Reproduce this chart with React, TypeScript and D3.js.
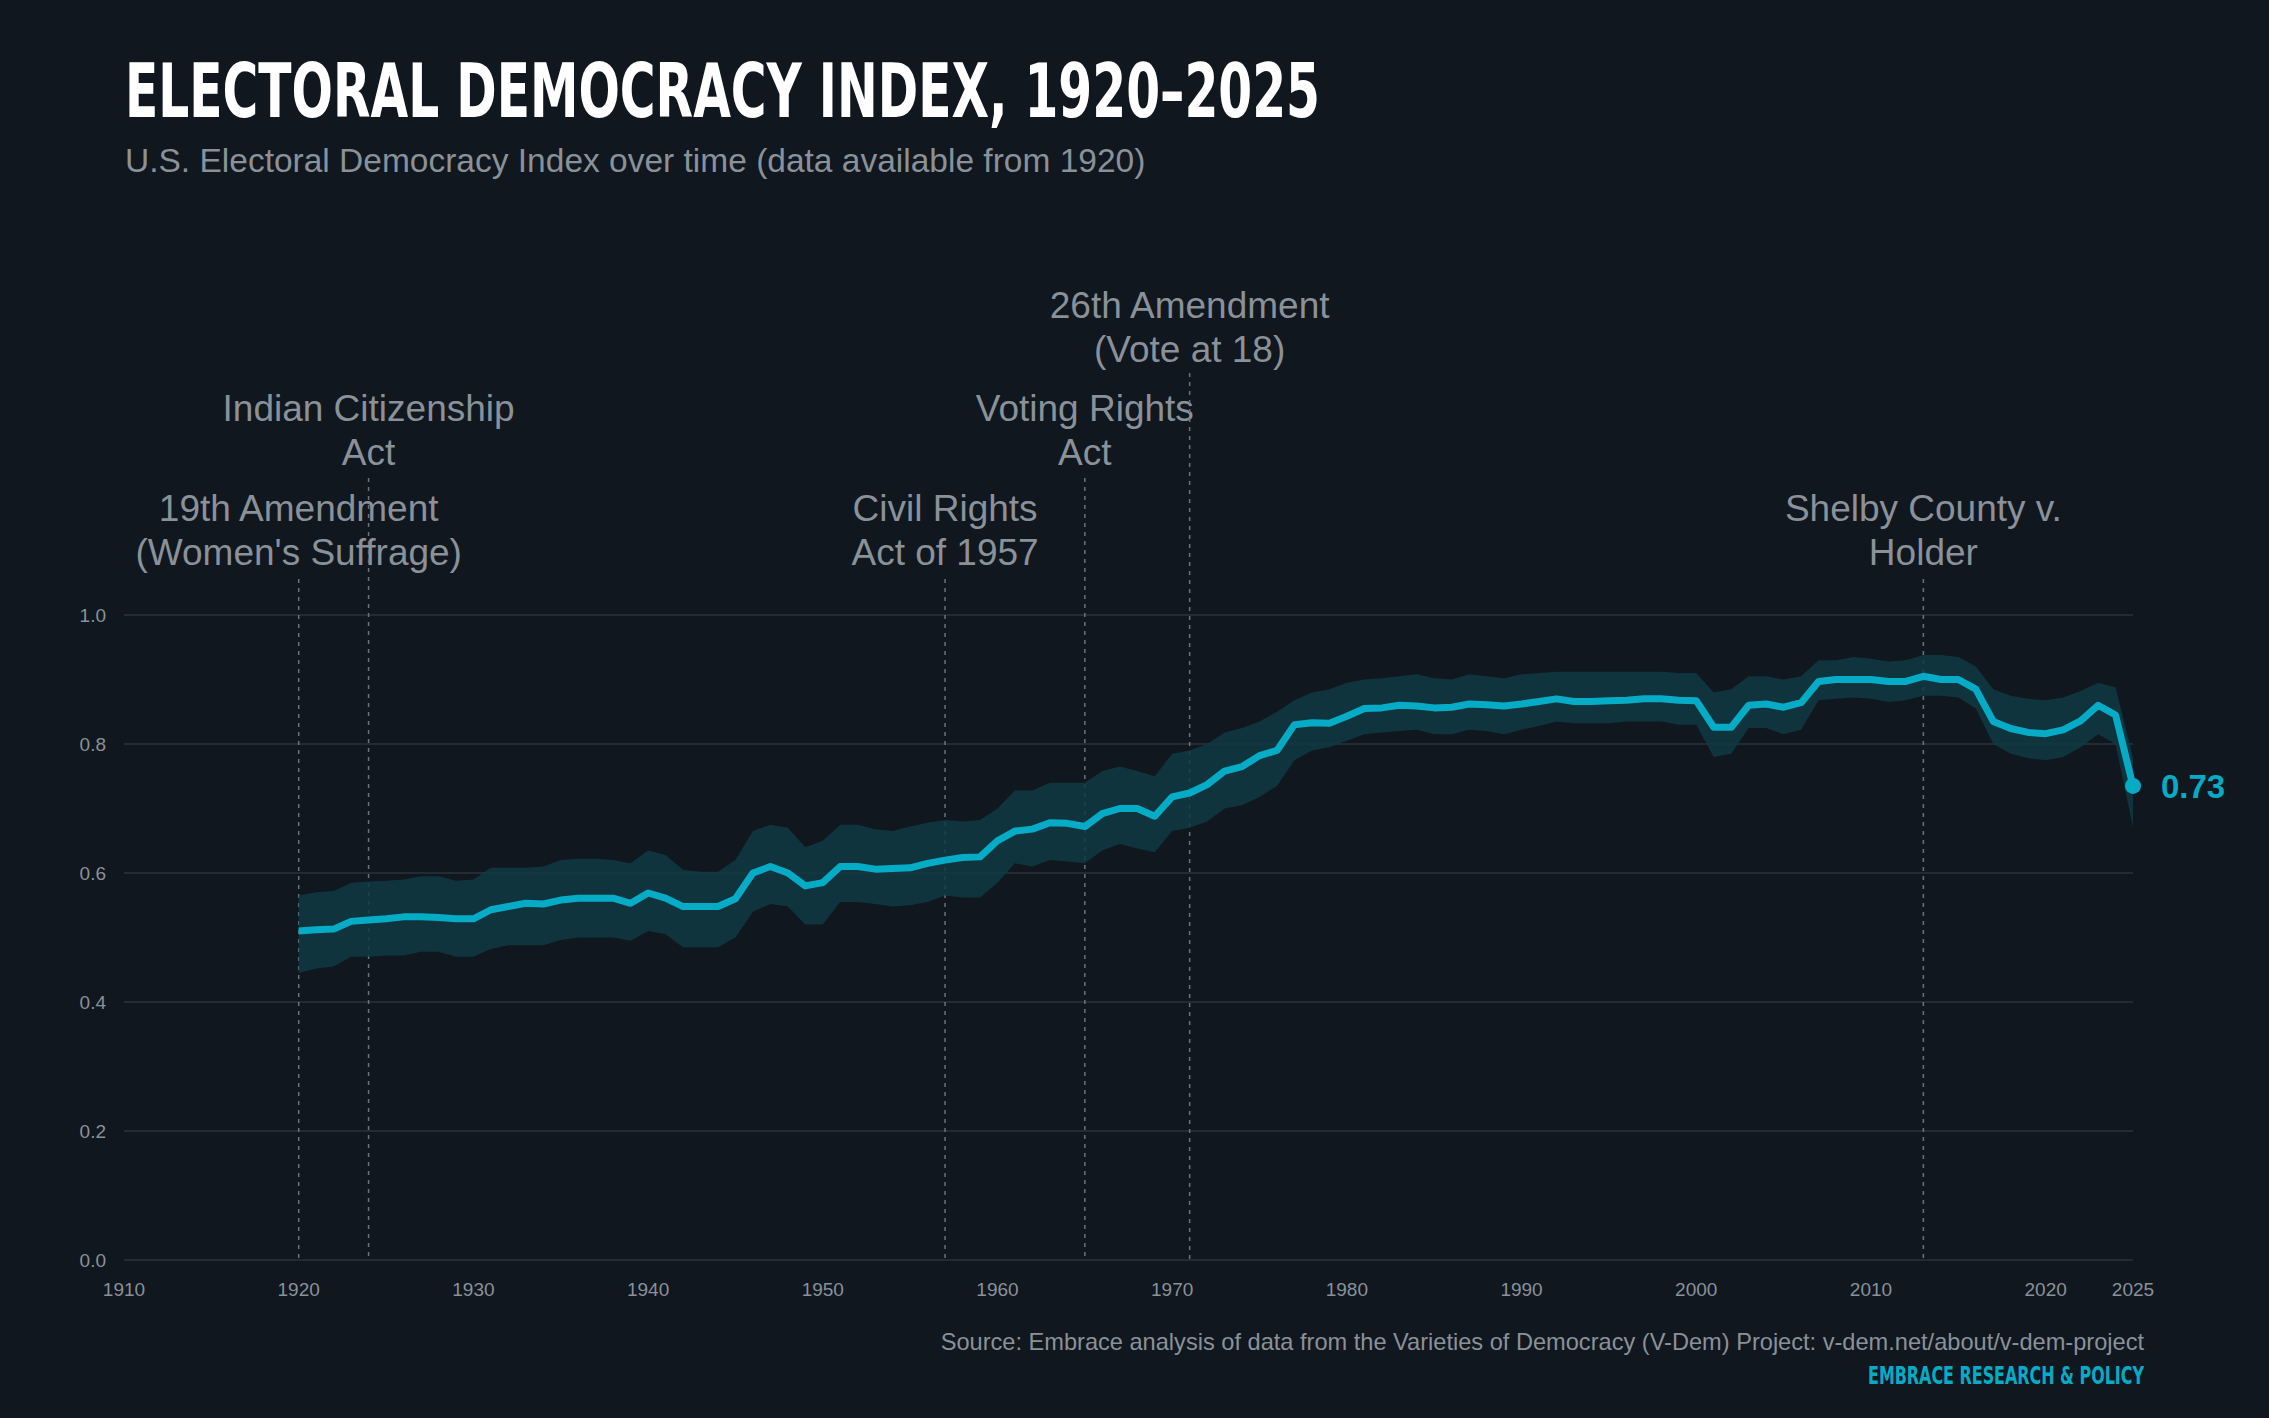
import React from 'react';
import * as d3 from 'd3';

const years = d3.range(1920, 2026);

const meanValues = [
  0.510, 0.512, 0.513, 0.525, 0.527, 0.529, 0.532, 0.532, 0.531, 0.529,
  0.529, 0.543, 0.548, 0.553, 0.552, 0.558, 0.561, 0.561, 0.561, 0.553,
  0.569, 0.561, 0.548, 0.548, 0.548, 0.560, 0.600, 0.610, 0.600, 0.580,
  0.585, 0.610, 0.610, 0.606, 0.607, 0.608, 0.615, 0.620, 0.624, 0.625,
  0.650, 0.665, 0.668, 0.678, 0.677, 0.672, 0.692, 0.700, 0.700, 0.688,
  0.718, 0.724, 0.737, 0.758, 0.765, 0.782, 0.790, 0.830, 0.833, 0.832,
  0.843, 0.855, 0.856, 0.860, 0.859, 0.856, 0.857, 0.862, 0.861, 0.859,
  0.862, 0.866, 0.870, 0.866, 0.866, 0.867, 0.868, 0.870, 0.870, 0.868,
  0.867, 0.826, 0.826, 0.860, 0.862, 0.857, 0.864, 0.897, 0.900, 0.900,
  0.900, 0.897, 0.897, 0.905, 0.900, 0.900, 0.885, 0.835, 0.824, 0.818,
  0.816, 0.822, 0.836, 0.860, 0.845, 0.735,
];

const upperValues = [
  0.565, 0.570, 0.572, 0.585, 0.587, 0.588, 0.590, 0.595, 0.595, 0.588,
  0.590, 0.608, 0.608, 0.608, 0.610, 0.620, 0.622, 0.622, 0.620, 0.615,
  0.635, 0.628, 0.605, 0.602, 0.602, 0.620, 0.665, 0.675, 0.670, 0.640,
  0.650, 0.675, 0.675, 0.668, 0.665, 0.672, 0.678, 0.682, 0.680, 0.682,
  0.700, 0.728, 0.728, 0.740, 0.740, 0.740, 0.758, 0.765, 0.758, 0.750,
  0.785, 0.790, 0.800, 0.818, 0.825, 0.835, 0.850, 0.868, 0.880, 0.885,
  0.895, 0.900, 0.902, 0.905, 0.908, 0.902, 0.900, 0.908, 0.905, 0.902,
  0.908, 0.910, 0.912, 0.912, 0.912, 0.912, 0.912, 0.912, 0.912, 0.910,
  0.910, 0.880, 0.885, 0.905, 0.905, 0.900, 0.905, 0.930, 0.930, 0.935,
  0.932, 0.928, 0.930, 0.938, 0.938, 0.935, 0.920, 0.885, 0.875, 0.870,
  0.868, 0.872, 0.882, 0.895, 0.888, 0.780,
];

const lowerValues = [
  0.445, 0.452, 0.455, 0.470, 0.470, 0.472, 0.472, 0.478, 0.478, 0.470,
  0.470, 0.482, 0.488, 0.488, 0.488, 0.496, 0.500, 0.500, 0.500, 0.495,
  0.510, 0.505, 0.485, 0.485, 0.485, 0.500, 0.540, 0.552, 0.548, 0.520,
  0.520, 0.555, 0.555, 0.552, 0.548, 0.550, 0.555, 0.565, 0.562, 0.562,
  0.585, 0.615, 0.610, 0.620, 0.618, 0.615, 0.635, 0.645, 0.638, 0.632,
  0.665, 0.670, 0.680, 0.700, 0.705, 0.718, 0.735, 0.775, 0.790, 0.795,
  0.805, 0.815, 0.818, 0.820, 0.822, 0.815, 0.815, 0.822, 0.820, 0.815,
  0.822, 0.828, 0.835, 0.832, 0.832, 0.832, 0.835, 0.835, 0.835, 0.830,
  0.830, 0.780, 0.785, 0.825, 0.825, 0.815, 0.822, 0.868, 0.870, 0.872,
  0.870, 0.865, 0.868, 0.875, 0.875, 0.872, 0.855, 0.800, 0.785, 0.778,
  0.775, 0.780, 0.795, 0.815, 0.800, 0.670,
];

const xTicks = [1910, 1920, 1930, 1940, 1950, 1960, 1970, 1980, 1990, 2000, 2010, 2020, 2025];
const yTicks = [0, 0.2, 0.4, 0.6, 0.8, 1.0];

const events = [
  { year: 1920, lines: ['19th Amendment', "(Women's Suffrage)"], level: 0 },
  { year: 1924, lines: ['Indian Citizenship', 'Act'], level: 1 },
  { year: 1957, lines: ['Civil Rights', 'Act of 1957'], level: 0 },
  { year: 1965, lines: ['Voting Rights', 'Act'], level: 1 },
  { year: 1971, lines: ['26th Amendment', '(Vote at 18)'], level: 2 },
  { year: 2013, lines: ['Shelby County v.', 'Holder'], level: 0 },
];

const W = 2269;
const H = 1418;
const BG = '#10171f';
const TEAL = '#06acc6';
const GREY = '#8a9199';

export default function App() {
  const x = d3.scaleLinear().domain([1910, 2025]).range([124, 2133]);
  const y = d3.scaleLinear().domain([0, 1]).range([1260, 615]);

  const rows = years.map((yr, i) => ({ yr, m: meanValues[i], u: upperValues[i], l: lowerValues[i] }));
  const area = d3.area<typeof rows[0]>().x(d => x(d.yr)).y0(d => y(d.l)).y1(d => y(d.u));
  const line = d3.line<typeof rows[0]>().x(d => x(d.yr)).y(d => y(d.m));
  const last = rows[rows.length - 1];

  // label baselines per level (first line); line tops
  const levelBase = [521, 421, 318];
  const levelTop = [579, 478, 373];
  const sans = 'Liberation Sans, Arial, sans-serif';
  const narrow = '"Liberation Sans Narrow", "DejaVu Sans Condensed", sans-serif';

  return (
    <svg width={W} height={H} style={{ display: 'block', position: 'absolute', left: 0, top: 0 }}>
      <rect width={W} height={H} fill={BG} />
      <text x={125} y={117} fill="#fff" fontFamily={narrow} fontWeight={700} fontSize={74}
        textLength={1195} lengthAdjust="spacingAndGlyphs">ELECTORAL DEMOCRACY INDEX, 1920–2025</text>
      <text x={125} y={172} fill={GREY} fontFamily={sans} fontSize={33.5}>
        U.S. Electoral Democracy Index over time (data available from 1920)
      </text>

      {yTicks.map(t => (
        <g key={t}>
          <line x1={124} x2={2133} y1={y(t)} y2={y(t)} stroke="#2a343d" strokeWidth={1.5} />
          <text x={106} y={y(t) + 7} textAnchor="end" fill={GREY} fontFamily={sans} fontSize={19}>{t.toFixed(1)}</text>
        </g>
      ))}
      {xTicks.map(t => (
        <text key={t} x={x(t)} y={1296} textAnchor="middle" fill={GREY} fontFamily={sans} fontSize={19}>{t}</text>
      ))}

      {events.map(e => (
        <g key={e.year}>
          <line x1={x(e.year)} x2={x(e.year)} y1={levelTop[e.level]} y2={1260}
            stroke="#6b737b" strokeWidth={1.5} strokeDasharray="4,5" />
          {e.lines.map((ln, i) => (
            <text key={i} x={x(e.year)} y={levelBase[e.level] + i * 44} textAnchor="middle"
              fill={GREY} fontFamily={sans} fontSize={37}>{ln}</text>
          ))}
        </g>
      ))}

      <path d={area(rows) ?? ''} fill="#0f3a44" opacity={0.85} />
      <path d={line(rows) ?? ''} fill="none" stroke={TEAL} strokeWidth={7} strokeLinejoin="round" />
      <circle cx={x(last.yr)} cy={y(last.m)} r={8} fill={TEAL} />
      <text x={x(last.yr) + 28} y={y(last.m) + 12} fill={TEAL} fontFamily={sans} fontWeight={700} fontSize={33}>
        0.73
      </text>

      <text x={2144} y={1350} textAnchor="end" fill={GREY} fontFamily={sans} fontSize={23.6}>
        Source: Embrace analysis of data from the Varieties of Democracy (V-Dem) Project: v-dem.net/about/v-dem-project
      </text>
      <text x={2144} y={1384} textAnchor="end" fill={TEAL} fontFamily={narrow} fontWeight={700} fontSize={24}
        textLength={276} lengthAdjust="spacingAndGlyphs">EMBRACE RESEARCH &amp; POLICY</text>
    </svg>
  );
}
